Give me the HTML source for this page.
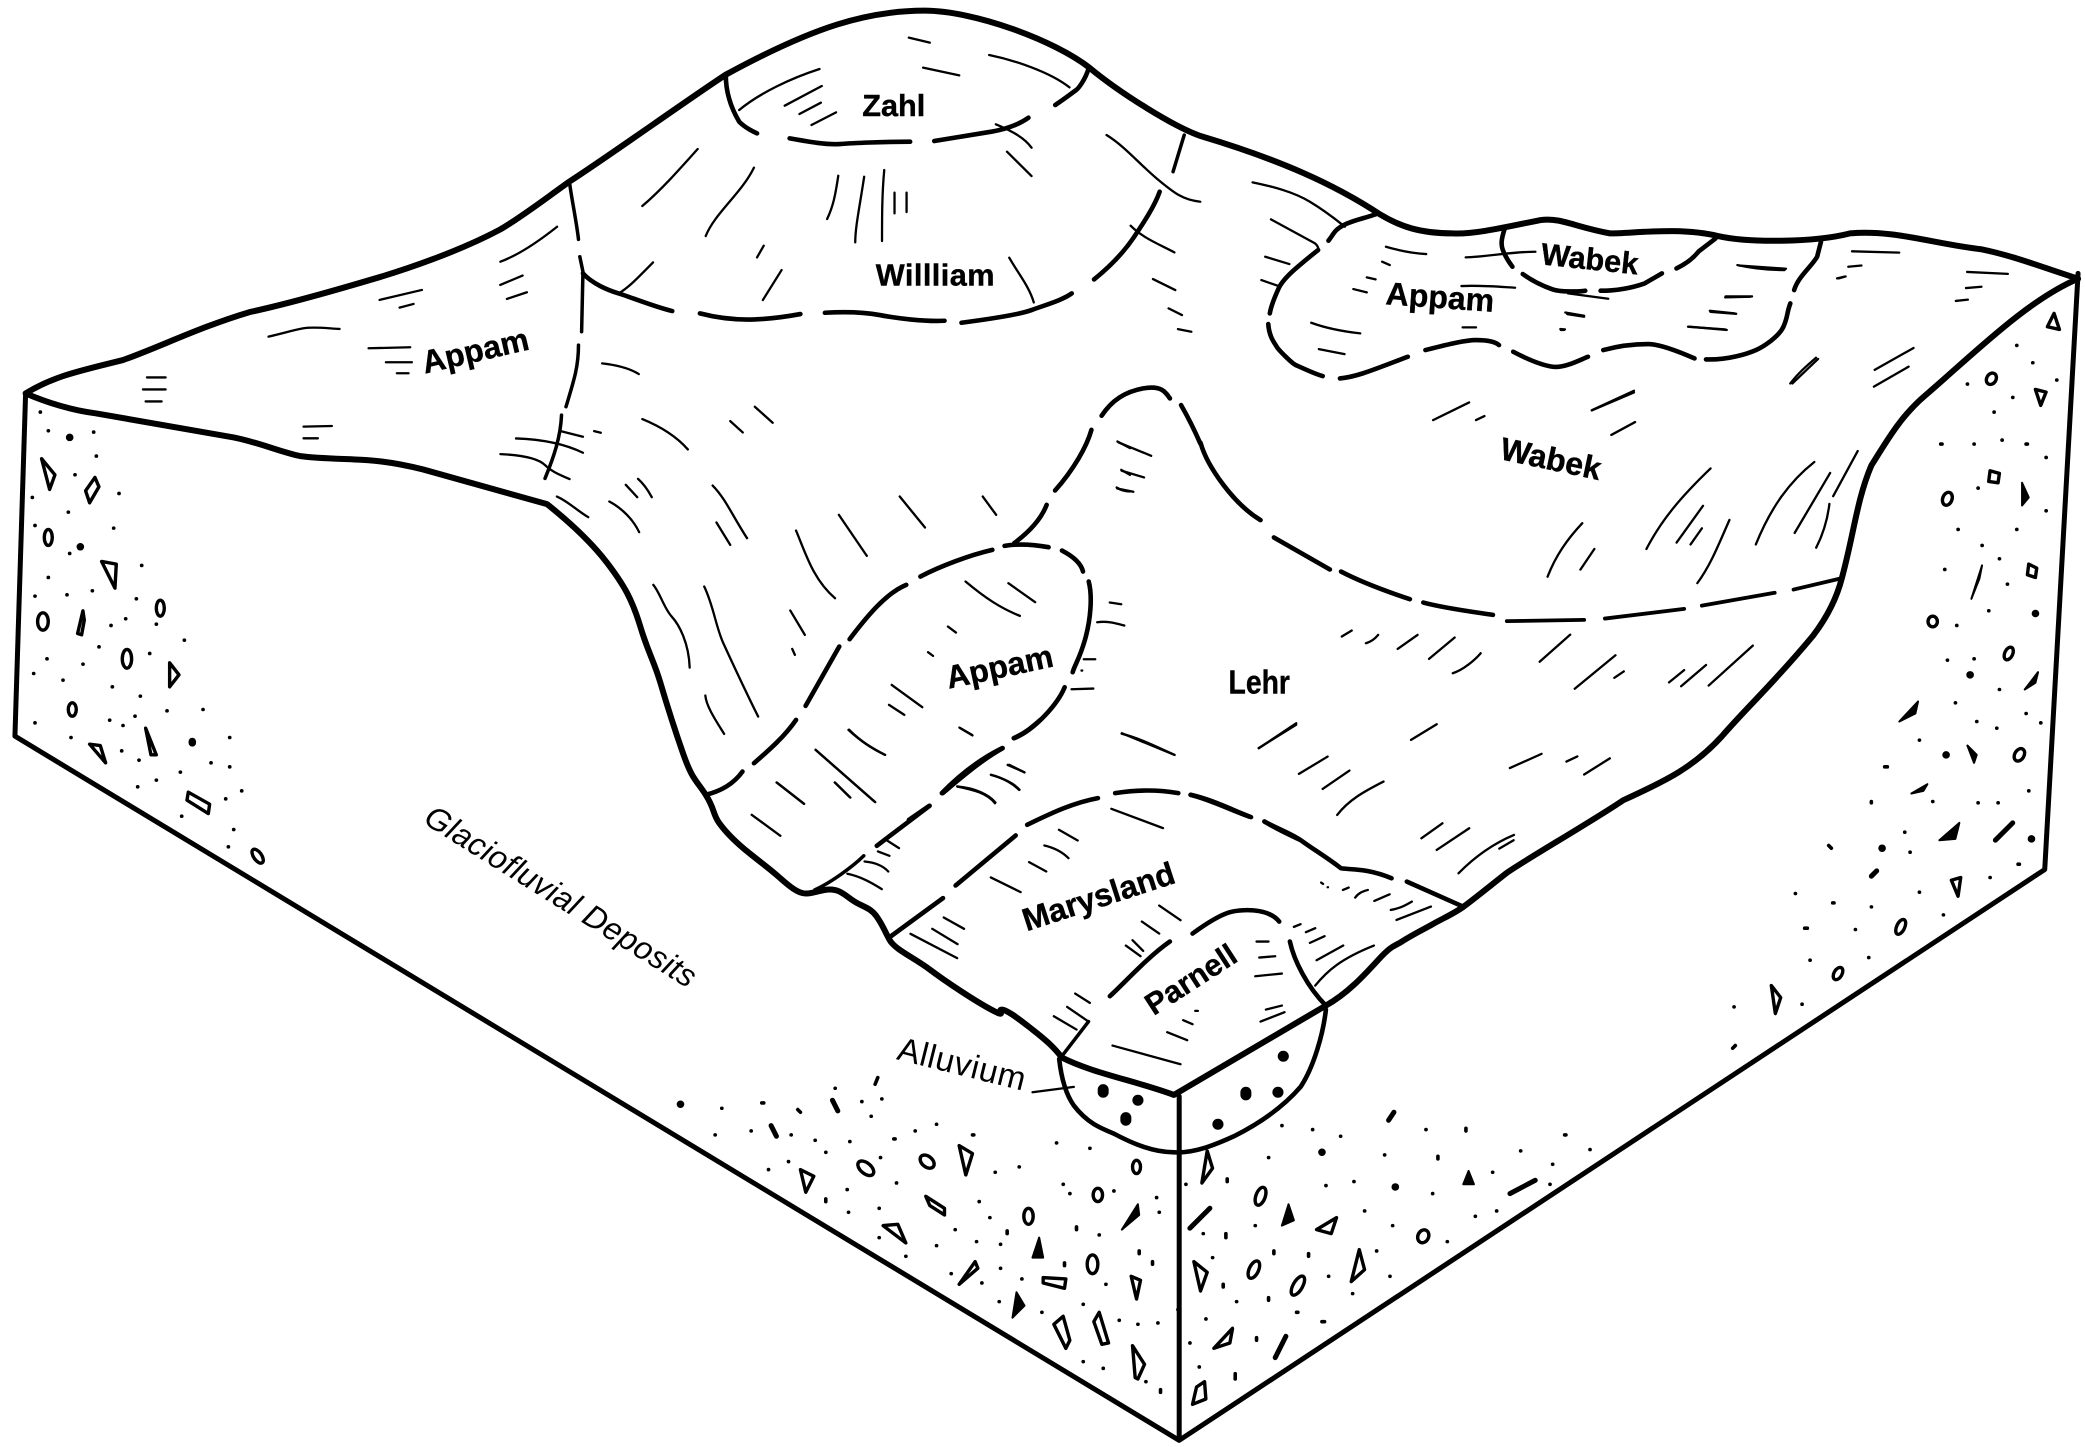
<!DOCTYPE html>
<html><head><meta charset="utf-8"><style>
html,body{margin:0;padding:0;background:#fff}
svg{display:block}
path,ellipse,polygon{vector-effect:non-scaling-stroke}
.k{fill:none;stroke:#000;stroke-linecap:round;stroke-linejoin:round}
.e{stroke-width:6}.x{stroke-width:5}.b{stroke-width:4.6}.h{stroke-width:2.3}
.s{fill:none;stroke:#000;stroke-width:3.4;stroke-linejoin:round}
.f{fill:#000;stroke:#000;stroke-width:2;stroke-linejoin:round}
text{font-family:"Liberation Sans",sans-serif;fill:#000;text-anchor:middle}
.l{font-weight:bold;font-size:24px;stroke:#000;stroke-width:.3}
</style></head><body>
<svg width="2085" height="1447" viewBox="0 0 1563 1085" xmlns="http://www.w3.org/2000/svg">
<rect width="1563" height="1085" fill="#fff"/>
<!-- block edges -->
<path class="k x" d="M19 295L11 552L884 1080L1533 652L1558 205M884 822V1080"/>
<path class="k e" d="M19 295C35 302 55 308 72 310L175 328C195 332 210 339 225 342C240 344 260 344 275 345C290 346 305 349 317 352L410 378C425 390 442 405 455 422S474 450 480 470S490 495 495 512S505 545 512 565S522 585 529 596S534 610 539 617S552 632 562 640S575 650 582 656S597 670 604 670S615 667 622 667S632 670 639 675S652 680 657 687S663 698 667 705S685 718 697 727S730 750 743 757S747 757 751 757S765 765 774 772S790 785 796 793C820 805 850 810 880 821L994 754C1010 745 1022 732 1033 720S1045 710 1051 706S1065 698 1074 693S1090 685 1097 680S1120 662 1129 655S1195 615 1217 600C1250 585 1270 575 1291 552C1310 530 1330 512 1359 477C1372 460 1378 445 1381 433C1390 400 1392 375 1403 349C1415 330 1425 312 1444 296C1480 265 1520 225 1558 209C1530 200 1510 192 1486 187C1450 183 1420 172 1387 175C1360 182 1310 182 1288 177C1260 170 1225 175 1207 175C1180 170 1170 163 1155 165C1130 170 1105 176 1089 175C1065 175 1050 170 1035 161C1000 138 960 120 900 102C880 95 840 70 817 51C790 30 730 8 693 8C650 8 610 20 544 56C515 75 455 118 427 136C410 148 392 162 375 172C345 188 305 202 277 210C250 218 215 228 187 234C150 245 120 260 92 270C60 278 40 282 19 295Z"/>
<!-- alluvium arc -->
<path class="k b" d="M794 794C796 812 800 822 805 829C815 842 825 846 835 850C850 858 865 864 880 864C895 865 912 858 925 852C945 842 962 830 975 815C985 800 992 775 994 757"/>
<path class="k h" d="M774 819L805 815"/>

<!-- Zahl, William -->
<g transform="translate(375,0) scale(.3347,.25)">
<path class="k b" d="M505 225C505 270 515 320 535 365Q550 385 575 400M648 415C690 425 730 435 760 432S860 425 918 425M972 423C1020 412 1070 402 1100 395S1160 375 1183 353M1318 205C1310 240 1295 265 1290 270S1260 300 1243 315"/>
<path class="k b" d="M185 820C205 850 240 870 265 880S340 918 385 933M447 940C490 955 530 960 570 958S640 950 672 942M727 938C770 935 810 935 850 945S950 965 995 962M1033 968C1090 958 1160 945 1190 930S1260 900 1280 880M1330 838C1370 795 1400 750 1420 710S1465 620 1477 575"/>
<path class="k b" style="stroke-width:3.5" d="M155 548C160 600 170 660 175 718M178 770L185 815L182 995M175 1035C175 1100 165 1140 147 1220M137 1245C135 1310 120 1370 100 1435M1532 405L1507 515"/>
<path class="k b" d="M1347 1247C1370 1200 1400 1175 1440 1165S1490 1175 1500 1195M1525 1215C1540 1250 1555 1290 1568 1330"/>
<path class="k h" d="M535 330C580 280 650 235 715 207M637 317L720 258M670 342L718 308M697 375L752 337M915 113L962 128M947 203L1028 226M1095 165C1150 180 1230 215 1275 262M1110 373C1150 395 1175 415 1190 443M1135 455L1190 528M442 447C400 510 360 570 318 618M568 503C540 580 480 640 460 708M757 527C750 590 745 620 732 657M815 530C805 620 795 680 795 727M860 510C855 580 855 650 855 723M883 578V640M910 578V636M590 737L575 772M630 810L588 900M342 787C310 830 290 860 265 880M1140 773C1160 820 1185 860 1195 907M1412 677C1440 715 1480 735 1510 757M1462 837L1512 870M1497 925L1527 945M1518 987L1548 995M1358 405C1400 440 1430 490 1470 535S1530 600 1568 605M127 680C80 730 40 765 0 785M228 1090C260 1095 290 1105 310 1122M210 1293L225 1298M570 1220L610 1268M515 1263L543 1297M318 1257C360 1280 395 1310 420 1348M35 1315C100 1318 150 1335 185 1358M135 1293L185 1310M0 1362C50 1365 85 1375 100 1395S135 1425 155 1437M1385 1327L1458 1367M1392 1412L1442 1432M1382 1465L1418 1475"/>
</g>

<!-- right Appam, Wabek -->
<g transform="translate(937,150) scale(.2874,.25)">
<path class="k b" d="M335 40C300 55 270 60 245 75S220 100 205 122M178 150C150 175 130 195 120 205S85 240 75 265S55 320 52 340M48 372C50 410 65 430 70 440S110 490 120 495S170 522 190 528M235 535C280 530 320 510 412 470M458 450C510 435 560 420 590 420S640 425 650 435M687 455C720 475 760 495 790 500S860 480 882 470M922 450C970 435 1010 432 1040 432S1120 455 1160 475M1190 478C1250 480 1300 460 1320 450S1380 410 1392 380S1400 340 1410 310M1420 270C1430 230 1465 200 1480 170L1490 125"/>
<path class="k b" d="M665 85C655 120 655 135 660 150S675 185 685 200M712 222C740 245 770 260 790 268S860 275 875 272M915 272C960 272 1000 262 1030 250L1075 220M1113 205C1140 190 1160 170 1170 155L1215 115"/>
<path class="k h" d="M830 280L935 296M355 140C400 155 430 160 460 162M345 185L365 195M305 232L328 238M270 267L305 277M160 368C200 385 250 395 288 400M180 447L247 462M555 382L590 382M563 172C620 170 680 155 745 155M552 258C600 255 650 260 692 263M828 342L872 350M810 387L822 388M1272 195C1320 208 1360 210 1395 210M1240 292L1305 290M1200 332L1265 340M1143 380L1240 388M55 58L170 130Q180 140 178 150M40 170L103 192M30 240L75 258M1532 235L1550 230M1410 550C1430 520 1450 500 1477 473M893 630L1002 572M478 660L572 607M590 660L612 648"/>
</g>

<!-- right hachures -->
<g transform="translate(1124,187) scale(.2829,.4831)">
<path class="k b" style="stroke-width:3.8" d="M20 577L225 575M280 573L490 558M537 553L730 533M780 528L910 510"/>
<path class="k h" d="M635 25L760 30M600 73L670 73M560 97L628 100M503 120L603 125M935 3L1060 5M900 45L918 42M925 27L960 25M1240 35L1348 38M1237 60L1278 58M1210 80L1242 78M175 98L225 103M163 125L172 125M777 208L845 170M995 187L1098 153M993 213L1085 182M245 250L357 222M297 288L360 268M390 465C430 420 480 385 560 340M470 455L540 398M507 458L537 433M525 518C560 490 580 460 610 420M680 458C720 400 770 360 835 330M783 440L877 347M885 383L950 313M840 463C860 440 870 420 875 395M128 508C150 475 180 450 220 425M215 497L252 465M107 640L188 598M200 682L308 630M305 665L330 655M450 672L490 653M482 678L548 645M555 677L672 615M28 805L112 783M178 795L207 787M225 815L293 790M0 930L38 917"/>
</g>

<!-- left Appam hachures -->
<g transform="translate(187.4,172.4) scale(.25)">
<path class="k h" d="M388 210L515 180M448 233L490 222M55 320C100 310 130 300 160 295S230 295 268 297M355 355L480 352M407 397L485 397M440 430L475 430M160 590L245 588M160 625L203 625M750 165L817 137M770 207L830 187"/>
</g>
<path class="k h" d="M110 283L124 283M107 292L124 292M109 301L121 301"/>

<!-- central Appam -->
<g transform="translate(397.3,314.8) scale(.2869,.25)">
<path class="k b" d="M1467 30C1455 80 1420 150 1372 212M1350 255C1335 300 1300 340 1265 370M1240 378C1280 370 1320 375 1355 382M1390 392C1420 410 1440 430 1445 455M1460 485C1470 530 1465 600 1450 660S1425 730 1418 757M1397 802C1380 850 1320 930 1265 955M1235 985C1180 1020 1130 1070 1078 1120M1043 1158L990 1200M1208 390C1150 405 1070 440 1020 470M983 495C930 520 880 590 835 658M808 680L720 858M695 900C665 950 625 990 585 1030M555 1055C530 1095 495 1115 458 1125"/>
<path class="k h" d="M70 230C100 245 120 270 152 292M207 245C240 265 270 300 285 337M250 195L280 232M282 177C300 195 310 215 318 232M477 197C510 235 530 290 567 355M487 308L523 375M695 332C720 400 740 480 797 535M807 285L880 408M966 230L1032 323M1183 230L1218 285M322 495C340 520 350 565 370 590S415 670 417 743M455 500C480 560 485 620 505 670S570 830 596 890M458 827C460 860 490 910 507 942M680 572L718 645M685 687L692 705M1138 485C1190 535 1230 565 1280 588M1250 490L1320 547M1092 620L1113 638M1040 697L1053 708M945 795L1025 862M938 855L978 885M1122 923L1155 945M832 930C860 960 890 985 928 1005M746 990L900 1145M797 1088L837 1133M645 1088L716 1152M1248 1035L1292 1057M1205 1065C1240 1075 1265 1095 1278 1110M1117 1100C1160 1110 1195 1120 1215 1150M1515 548L1545 553M1482 607C1510 603 1530 610 1553 617M1447 718L1477 718M1415 808L1472 806M1441 752h2M1535 65L1568 85M1545 150L1568 165M1533 203C1545 212 1555 215 1568 215"/>
</g>

<!-- Marysland -->
<g transform="translate(524.7,539.7) scale(.2869,.25)">
<path class="k b" d="M462 378L600 258M632 220C670 175 720 125 790 85M820 55C850 40 870 20 890 0M498 650L635 535M668 497L825 347M855 315C910 285 970 250 1040 235M1085 220C1140 210 1200 210 1250 220M1282 225C1340 240 1390 270 1440 292M1475 305C1510 330 1540 345 1568 360"/>
<path class="k" stroke-width="3.5" d="M300 510C340 490 400 440 428 408"/>
<path class="k h" d="M135 285L210 348M200 188L272 252M352 188L392 233M302 90L458 247M390 30C420 65 450 85 483 105M680 25L712 47M808 135L848 158M760 165C790 175 820 190 835 210M672 200C720 205 755 225 772 248M490 363L520 385M465 395L495 408M430 425C460 428 480 440 492 455M385 462C420 470 450 490 475 508M637 593L690 627M607 627L673 673M550 642L672 715M760 473L838 517M860 427L905 455M900 377C930 385 950 400 963 415M938 330L987 362M1075 267L1210 325M1102 42C1150 55 1200 85 1240 105M1460 85L1558 15"/>
</g>

<!-- Lehr lower -->
<g transform="translate(824.6,419.8) scale(.2869,.25)">
<path class="k b" d="M237 705C290 720 340 750 390 770M430 785C470 810 500 820 530 845S590 890 630 925C660 930 700 925 762 955M802 965L945 1038M630 35C680 65 750 95 810 118M845 128C900 145 970 155 1027 165"/>
<path class="k h" d="M632 230L658 212M695 250C710 245 720 235 727 225M778 267L830 225M860 297L927 233M922 340C950 330 980 300 995 280M415 565L513 490M813 540L880 493M520 642L595 590M582 687L652 632M620 765C650 720 690 695 741 665M840 835L895 790M880 870L965 805M937 940C980 890 1030 850 1082 825M57 520L195 585M578 968L583 972M595 982h1M635 990L650 983M667 1013C675 1000 685 995 700 990M717 1023L757 1003M760 1050C785 1045 800 1035 815 1025M775 1080L865 1040"/>
</g>

<!-- Lehr bump remainder -->
<path class="k b" d="M900 332C905 350 925 378 945 390M955 403L997 427"/>

<!-- Wabek ridge detail -->
<g transform="translate(862,75) scale(.25)">
<path class="k h" d="M308 247C370 260 430 275 480 305S560 360 585 380"/>
</g>

<!-- Parnell -->
<path class="k b" d="M894 700C905 692 915 686 922 684S950 680 959 691M877 706C860 718 845 735 832 747M967 706C970 720 980 740 994 754"/>
<path class="k" stroke-width="3.5" d="M816 766L796 792"/>
<path class="k h" d="M869 679L885 690M856 691L869 700M844 709L855 717M849 705L857 713M806 745L817 752M800 755L816 766M790 762L807 772M942 706L951 706M944 718L956 717M941 732L961 730M949 757L961 754M945 766L963 759M970 695L975 693M979 699L986 696M982 707L993 702M987 720L1007 709M986 739C995 728 1005 719 1030 709M834 784L885 798M875 774L890 780M887 765L894 768M896 758h2"/>

<!-- dots -->
<path class="k" stroke-width="3.6" d="M30 309h.1M36 323h.1M70 324h.1M72 342h.1M56 356h.1M89 370h.1M24 373h.1M51 384h.1M85 396h.1M26 394h.1M52 415h.1M106 424h.1M36 433h.1M26 447h.1M50 446h.1M69 443h.1M102 449h.1M94 464h.1M83 469h.1M117 468h.1M138 480h.1M74 485h.1M112 490h.1M35 494h.1M62 498h.1M25 505h.1M47 510h.1M84 515h.1M105 522h.1M125 533h.1M152 532h.1M26 542h.1M82 540h.1M92 544h.1M101 537h.1M53 553h.1M91 563h.1M104 570h.1M172 553h.1M158 572h.1M172 575h.1M135 579h.1M117 585h.1M103 590h.1M181 593h.1M169 599h.1M136 612h.1M175 622h.1M171 635h.1
M541 831h.1M571 827h1.500M598 832l2 2M626 816h.1M656 813l2-5M646 826h.1M661 824h.1M653 837h.1M536 851h.1M563 848h.1M593 851h.1M611 855h.1M637 856h.1M619 864h.1M670 854h1M686 848h.1M702 843h.1M729 851h1M591 871h.1M576 877h.1M660 868h.1M746 879h.1M764 875h.1M672 887h.1M635 892h.1M619 899v2M636 909h.1M659 906h.1M734 901h.1M742 913h.1M716 922h.1M659 928h.1M679 942h.1M702 934h.1M732 931h.1M755 923v2M750 933h.1M713 955h.1M736 962h.1M750 951h.1M766 959h.1M749 976h.1M781 984h.1M798 947v2M807 920v2M824 926h.1M797 888h.1M802 895h.1M835 893h.1M867 898h.1M869 909h.1M854 938v2M864 946v2M829 963h.1M812 978h.1M839 990h.1M853 993h.1M868 992h.1M812 1021h.1M827 1026h.1M859 1036h.1M870 1042v2M792 857h.1M817 861h.1
M961 844h.1M984 847h.1M1005 852h.1M1069 847h.1M1099 846v2M951 868h.1M1038 866h.1M1078 867v2M889 888h.1M920 884v2M994 889h.1M1015 886h.1M1074 895h.1M1119 879h.1M1023 908h.1M1106 912h.1M1122 908h.1M1044 919h.1M941 919h.1M902 925h.1M919 925v3M1085 931h.1M955 938v2M981 940v2M1032 938h.1M909 943h.1M996 957h.1M1042 957h.1M917 963v2M1014 970h.1M951 973v2M927 976h.1M883 982h.1M972 984h1M991 991h2M904 989h.1M892 1007h.1M942 1003v2M899 1025h.1M926 1030v4
M1512 259h.1M1524 272h.1M1542 285h.1M1475 288h.1M1509 298h.1M1495 309h.1M1455 333h1M1480 333h.1M1501 330h.1M1519 333h1M1534 343h.1M1483 366h.1M1534 383h.1M1468 397h.1M1512 397h.1M1486 409h.1M1499 419h.1M1458 427h.1M1505 438h.1M1491 458h.1M1467 469h.1M1460 495h.1M1480 494h.1M1499 517h.1M1466 527h.1M1482 541h.1M1497 546h.1M1519 535h.1M1530 542h.1M1439 555h.1M1413 575h2M1403 601v1M1449 601h.1M1483 602h.1M1498 602h.1M1521 593h.1M1371 634l2 2M1428 624h.1M1432 639h.1M1513 648h1M1492 658h.1M1439 669h.1M1346 670h.1M1374 677h1M1403 680h.1M1457 686h.1M1391 697h.1M1353 696h2M1401 718h.1M1357 720h.1M1351 753h.1M1300 755h.1M1299 786l2-2M1140 863h.1M1173 851h1M1164 873h.1M1192 862h.1M1162 888h.1"/>
<path class="k" stroke-width="7.500" d="M52 328h.1M60 410h.1M144 556v1M510 828h.1M991 864h.1M1046 890h.1M1477 506h.1M1526 460h.1M1523 629h.1M1411 636h.1M1459 566h.1"/>
<path class="k" stroke-width="11" d="M827 817v2M853 825h.1M844 838v2M962 792h.1M934 819v2M958 819h.1M913 843h.1"/>
<path class="k" stroke-width="5" d="M624 825l4 8M578 844l4 8M1041 840l4-6M1407 653l-4 4"/>

<!-- stones: outlines -->
<g class="s">
<polygon points="31,344 41,356 37,367"/><polygon points="71,358 74,365 67,377 64,368"/><polygon points="76,421 87,423 86,441"/><polygon points="62,458 63,465 61,476 58,475"/><polygon points="127,497 134,506 127,515"/><polygon points="109,546 117,566 113,566"/><polygon points="67,558 75,559 79,572"/><polygon points="141,594 157,603 156,610 140,600"/>
<polygon points="600,877 610,882 604,894"/><polygon points="719,859 729,865 724,881"/><polygon points="694,897 708,906 708,911 697,904"/><polygon points="662,919 673,918 679,932"/><polygon points="731,946 733,951 719,963"/><polygon points="782,958 799,959 798,966 782,962"/><polygon points="848,957 855,960 852,974"/><polygon points="797,987 802,1005 799,1011 790,993"/><polygon points="824,984 831,1007 826,1008 820,991"/><polygon points="849,1009 858,1023 853,1034 851,1033"/>
<polygon points="905,863 909,876 901,887"/><polygon points="1002,913 998,925 987,922"/><polygon points="1019,937 1023,952 1013,961"/><polygon points="895,946 905,954 900,968"/><polygon points="924,996 922,1007 910,1011"/><polygon points="903,1036 904,1049 894,1053 897,1040"/>
<polygon points="1540,235 1544,247 1535,245"/><polygon points="1526,292 1534,294 1530,304"/><polygon points="1470,658 1463,660 1468,672"/><polygon points="1328,739 1335,748 1331,760"/><polygon points="1492,353 1499,355 1498,362 1491,361"/><polygon points="1521,423 1527,426 1526,433 1520,431"/>
<ellipse cx="36" cy="403" rx="3" ry="6"/><ellipse cx="120" cy="456" rx="3" ry="6"/><ellipse cx="32" cy="466" rx="4" ry="6.500"/><ellipse cx="95" cy="494" rx="3.500" ry="7"/><ellipse cx="54" cy="532" rx="3" ry="5"/><ellipse cx="193" cy="642" rx="3" ry="6" transform="rotate(-35 193 642)"/>
<ellipse cx="649" cy="876" rx="7" ry="4" transform="rotate(40 649 876)"/><ellipse cx="695" cy="871" rx="6" ry="4" transform="rotate(40 695 871)"/><ellipse cx="771" cy="912" rx="3.500" ry="6"/><ellipse cx="819" cy="948" rx="4" ry="7"/><ellipse cx="823" cy="896" rx="3.500" ry="5"/><ellipse cx="852" cy="875" rx="3" ry="5"/>
<ellipse cx="945" cy="897" rx="3.500" ry="7" transform="rotate(20 945 897)"/><ellipse cx="1067" cy="927" rx="4" ry="5" transform="rotate(25 1067 927)"/><ellipse cx="940" cy="952" rx="3.500" ry="7" transform="rotate(25 940 952)"/><ellipse cx="973" cy="964" rx="3.500" ry="8" transform="rotate(30 973 964)"/>
<ellipse cx="1493" cy="284" rx="3.500" ry="4.500" transform="rotate(30 1493 284)"/><ellipse cx="1460" cy="374" rx="3.500" ry="5" transform="rotate(20 1460 374)"/><ellipse cx="1449" cy="466" rx="3.500" ry="4"/><ellipse cx="1506" cy="490" rx="3" ry="5" transform="rotate(25 1506 490)"/><ellipse cx="1514" cy="566" rx="3.500" ry="5" transform="rotate(30 1514 566)"/><ellipse cx="1425" cy="695" rx="3" ry="6" transform="rotate(25 1425 695)"/><ellipse cx="1378" cy="730" rx="3" ry="5" transform="rotate(30 1378 730)"/>
</g>
<!-- stones: solid -->
<g class="f">
<polygon points="779,928 782,943 774,943"/><polygon points="853,903 854,911 841,922"/><polygon points="762,969 768,979 759,988"/><polygon points="966,903 970,915 961,919"/><polygon points="1101,878 1105,888 1097,888"/><polygon points="1516,362 1521,373 1516,379"/><polygon points="1486,424 1484,434 1478,449"/><polygon points="1528,504 1526,512 1518,517"/><polygon points="1438,526 1436,535 1424,541"/><polygon points="1475,559 1482,566 1480,572"/><polygon points="1445,588 1442,593 1433,595"/><polygon points="1469,617 1466,629 1454,630"/>
</g>
<path class="k" stroke-width="5" d="M907 906L892 921M964 1002L956 1018M1509 617L1496 630M1132 895L1151 885"/>

<!-- labels -->
<text class="l" transform="translate(358,271) rotate(-13)">Appam</text>
<text class="l" x="701" y="214" textLength="89" style="font-size:23px">Willliam</text>
<text class="l" x="670" y="87" style="font-size:23px">Zahl</text>
<text class="l" transform="translate(1191,202) rotate(6)" style="font-size:23px">Wabek</text>
<text class="l" transform="translate(1079,231) rotate(4)">Appam</text>
<text class="l" transform="translate(1161,352) rotate(12)">Wabek</text>
<text class="l" x="944" y="520" style="font-size:25px" textLength="46" lengthAdjust="spacingAndGlyphs">Lehr</text>
<text class="l" transform="translate(751,508) rotate(-12)">Appam</text>
<text class="l" transform="translate(826,680) rotate(-18)">Marysland</text>
<text class="l" transform="translate(897,741) rotate(-33)" style="font-size:23px">Parnell</text>
<text transform="translate(719,806) rotate(14)" style="font-size:25px" textLength="98">Alluvium</text>
<text transform="translate(416,679) rotate(32)" style="font-size:24px;font-style:italic" textLength="235">Glaciofluvial Deposits</text>
</svg>
</body></html>
